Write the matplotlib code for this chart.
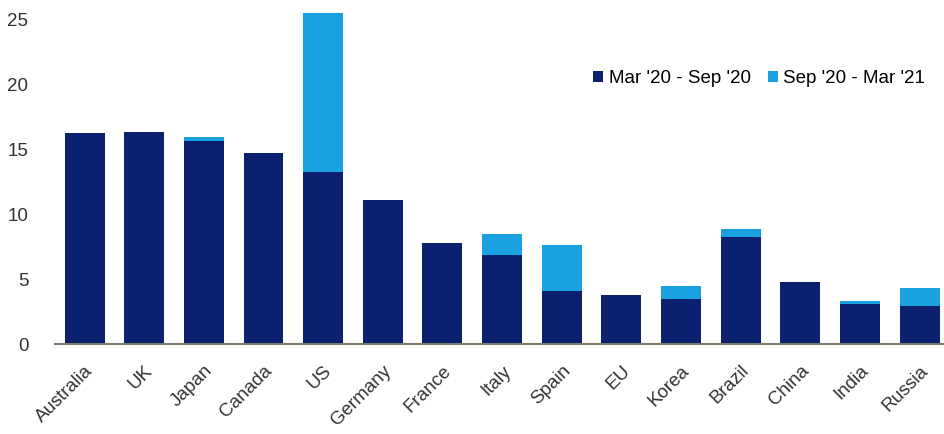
"""Stacked bar chart: fiscal support by country over two periods."""

import matplotlib.pyplot as plt
import numpy as np

countries = ["Australia", "UK", "Japan", "Canada", "US", "Germany", "France", "Italy",
             "Spain", "EU", "Korea", "Brazil", "China", "India", "Russia"]
first_period = [16.25, 16.3, 15.6, 14.7, 13.25, 11.1, 7.75, 6.85,
                4.1, 3.75, 3.45, 8.25, 4.8, 3.1, 2.9]
second_period = [0.0, 0.0, 0.35, 0.0, 12.25, 0.0, 0.0, 1.65,
                 3.5, 0.0, 1.05, 0.6, 0.0, 0.2, 1.4]
series_labels = ["Mar '20 - Sep '20", "Sep '20 - Mar '21"]
y_ticks = [0, 5, 10, 15, 20, 25]

DARK = "#0b2170"
LIGHT = "#1aa2e0"

plt.rcParams["font.family"] = ["Liberation Sans", "DejaVu Sans"]

fig = plt.figure(figsize=(9.44, 4.34), dpi=100)
ax = fig.add_axes([0.058, 0.207, 0.942, 0.779])

x = np.arange(len(countries))
ax.bar(x, first_period, width=0.67, color=DARK, label=series_labels[0])
ax.bar(x, second_period, width=0.67, bottom=first_period, color=LIGHT,
       label=series_labels[1])

ax.set_xlim(-0.5, 14.41)
ax.set_ylim(0, 26)
ax.set_yticks(y_ticks)
ax.set_xticks(x)
ax.set_xticklabels(countries, rotation=45, ha="right", rotation_mode="anchor",
                   fontsize=13.5, color="#333333")
for label in ax.get_xticklabels():
    label.set_x(label.get_position()[0])
ax.tick_params(axis="y", length=0, labelsize=13.5, labelcolor="#333333", pad=19)
ax.tick_params(axis="x", length=0, pad=13)

for side in ["top", "right", "left"]:
    ax.spines[side].set_visible(False)
ax.spines["bottom"].set_color("#7a7a6e")
ax.spines["bottom"].set_linewidth(1.5)

ax.legend(loc="center right", bbox_to_anchor=(0.998, 0.785), ncol=2, frameon=False,
          fontsize=13.5, handlelength=0.55, handleheight=0.55, handletextpad=0.3,
          columnspacing=0.9)

fig.savefig("out.png", dpi=100)
